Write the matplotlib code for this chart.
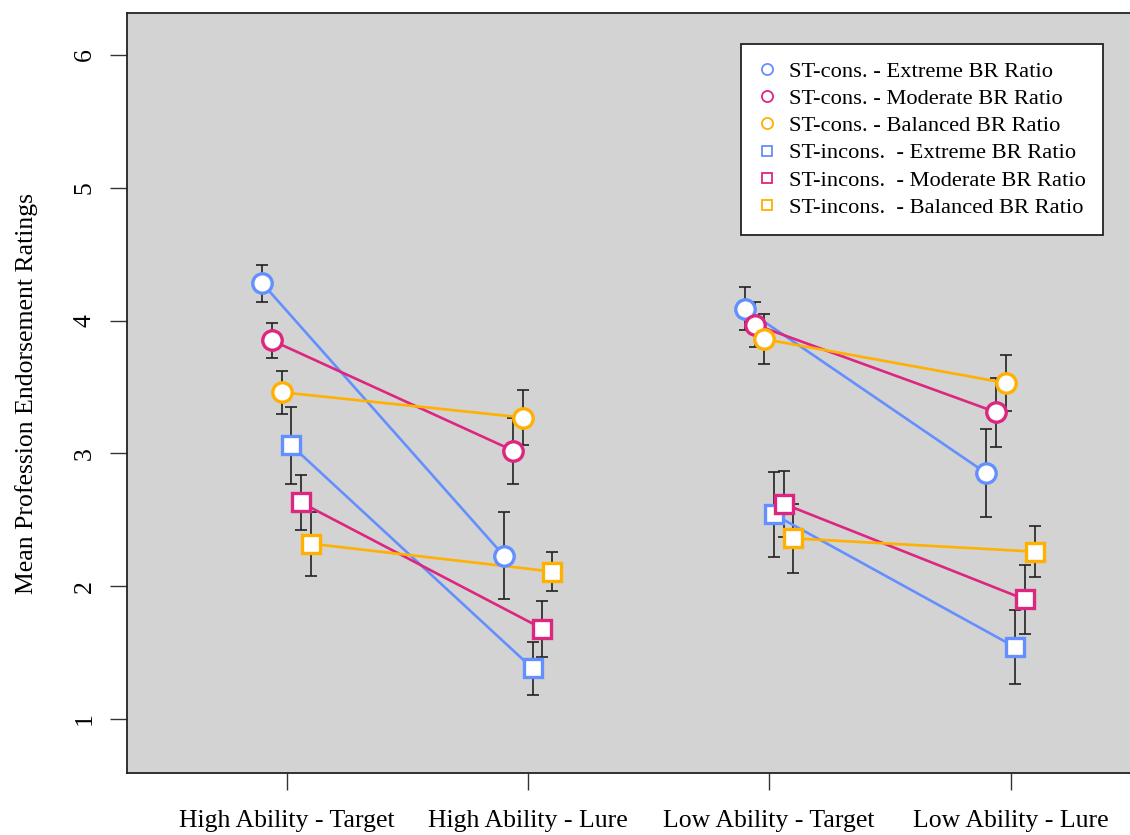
import matplotlib
matplotlib.use("Agg")
import matplotlib.pyplot as plt
from matplotlib.lines import Line2D
import numpy as np

plt.rcParams['font.family'] = ['Liberation Serif', 'DejaVu Serif']

conditions = ["High Ability - Target", "High Ability - Lure", "Low Ability - Target", "Low Ability - Lure"]
series_labels = ["ST-cons. - Extreme BR Ratio", "ST-cons. - Moderate BR Ratio", "ST-cons. - Balanced BR Ratio",
                 "ST-incons.  - Extreme BR Ratio", "ST-incons.  - Moderate BR Ratio", "ST-incons.  - Balanced BR Ratio"]
colors = ["#648FFF", "#DC267F", "#FFB000", "#648FFF", "#DC267F", "#FFB000"]
markers = ["o", "o", "o", "s", "s", "s"]

# means per series at [HT, HL, LT, LL]
ext_cons = [4.28, 2.23, 4.09, 2.85]
mod_cons = [3.85, 3.02, 3.97, 3.31]
bal_cons = [3.46, 3.27, 3.86, 3.53]
ext_incons = [3.06, 1.38, 2.54, 1.54]
mod_incons = [2.63, 1.68, 2.62, 1.90]
bal_incons = [2.32, 2.11, 2.36, 2.26]

# error half-widths
ext_cons_err = [0.14, 0.33, 0.16, 0.33]
mod_cons_err = [0.13, 0.25, 0.17, 0.26]
bal_cons_err = [0.16, 0.21, 0.19, 0.21]
ext_incons_err = [0.29, 0.20, 0.32, 0.28]
mod_incons_err = [0.21, 0.21, 0.25, 0.26]
bal_incons_err = [0.24, 0.15, 0.26, 0.19]

means = [ext_cons, mod_cons, bal_cons, ext_incons, mod_incons, bal_incons]
errs = [ext_cons_err, mod_cons_err, bal_cons_err, ext_incons_err, mod_incons_err, bal_incons_err]
offsets = [-0.10, -0.06, -0.02, 0.02, 0.06, 0.10]

W, H = 1130, 835
fig = plt.figure(figsize=(W / 100, H / 100), dpi=100)
ax = fig.add_axes([126.5 / W, 1 - 773 / H, (1136 - 126.5) / W, (773 - 13) / H])
ax.set_facecolor("#D3D3D3")

base = np.arange(1, 5)
for m, e, c, mk, off in zip(means, errs, colors, markers, offsets):
    xs = base + off
    ax.errorbar(xs, m, yerr=e, fmt="none", ecolor="#222222", elinewidth=1.2, capsize=4, capthick=1.2, zorder=2)
    for pair in [(0, 1), (2, 3)]:
        ax.plot(xs[list(pair)], np.array(m)[list(pair)], color=c, lw=1.9, zorder=3)
    ax.plot(xs, m, linestyle="none", marker=mk, markersize=14 if mk == "o" else 12.5,
            markerfacecolor="white", markeredgecolor=c, markeredgewidth=2.4, zorder=4)

ax.set_xlim(0.337, 4.52)
ax.set_ylim(0.593, 6.316)
ax.set_xticks(base)
ax.set_xticklabels(conditions, fontsize=18.5)
ax.set_yticks([1, 2, 3, 4, 5, 6])
ax.set_yticklabels(["1", "2", "3", "4", "5", "6"], fontsize=18.5, rotation=90, va="center")
ax.tick_params(axis="x", length=12, width=1, pad=15, color="#333333")
ax.tick_params(axis="y", length=12, width=1, pad=10, color="#333333")
ax.set_ylabel("Mean Profession Endorsement Ratings", fontsize=18.5, labelpad=26)
for s in ["left", "bottom", "top"]:
    ax.spines[s].set_linewidth(1.3)
    ax.spines[s].set_color("#222222")
ax.spines["right"].set_visible(False)

handles = [Line2D([], [], linestyle="none", marker=mk, markersize=8 if mk == "o" else 7.5,
                  markerfacecolor="none", markeredgecolor=c, markeredgewidth=1.3)
           for c, mk in zip(colors, markers)]
leg = ax.legend(handles, series_labels, loc="upper right", bbox_to_anchor=((1103 - 126.5) / (1136 - 126.5), (773 - 44) / 760),
                fontsize=16.2, frameon=True, fancybox=False, framealpha=1, edgecolor="#222222",
                handlelength=0.8, handletextpad=0.6, labelspacing=0.29, borderpad=0.75, borderaxespad=0)
leg.get_frame().set_linewidth(1.3)

fig.savefig("out.png", dpi=100)
